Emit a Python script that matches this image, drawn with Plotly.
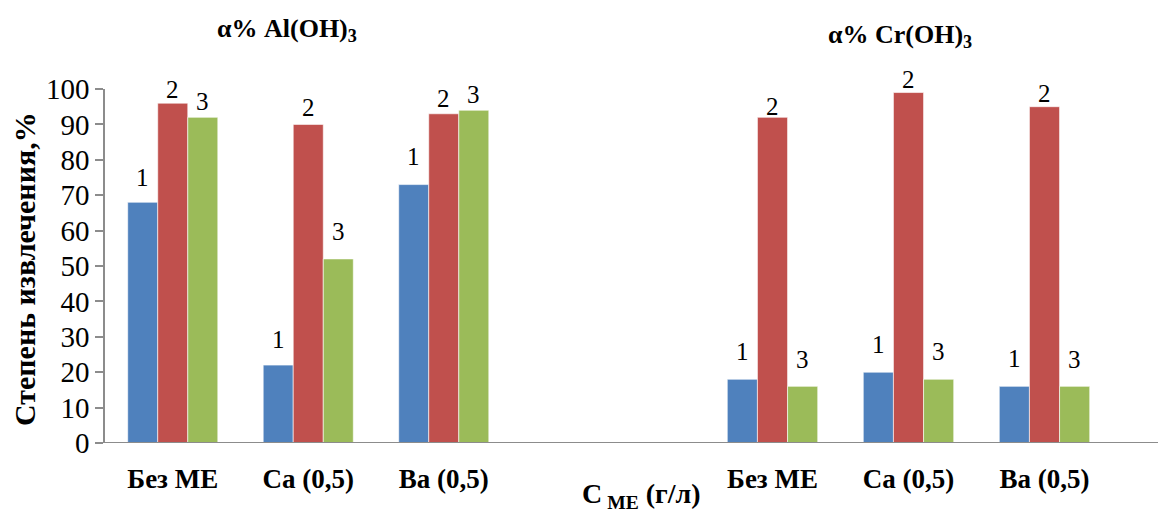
import plotly.graph_objects as go

# ---- data ----
categories = ["Без МЕ", "Ca (0,5)", "Ba (0,5)"]
series_names = ["1", "2", "3"]
al_values = {
    "1": [68, 22, 73],
    "2": [96, 90, 93],
    "3": [92, 52, 94],
}
cr_values = {
    "1": [18, 20, 16],
    "2": [92, 99, 95],
    "3": [16, 18, 16],
}
title_al = "α% Al(OH)<sub>3</sub>"
title_cr = "α% Cr(OH)<sub>3</sub>"
y_title = "Степень извлечения,%"
x_title = "C<sub> МЕ</sub> (г/л)"

# ---- style ----
colors = {"1": "#4F81BD", "2": "#C0504D", "3": "#9BBB59"}
FONT = "Liberation Serif"
AXIS_GRAY = "#8C8C8C"
BAR_W_PX = 30
# vertical pixel offsets of the series labels above their bars (style only)
label_shift_al = {"1": [25, 26, 28], "2": [14, 17, 15], "3": [16, 27, 16]}
label_shift_cr = {"1": [28, 28, 28], "2": [11, 13, 13], "3": [27, 28, 27]}

fig = go.Figure()

for s in series_names:
    fig.add_trace(go.Bar(
        x=categories, y=al_values[s], name=s, xaxis="x", yaxis="y",
        marker=dict(color=colors[s], line=dict(color="rgba(255,255,255,0.6)", width=1)),
        showlegend=False, hoverinfo="skip"))
for s in series_names:
    fig.add_trace(go.Bar(
        x=categories, y=cr_values[s], name=s, xaxis="x2", yaxis="y2",
        marker=dict(color=colors[s], line=dict(color="rgba(255,255,255,0.6)", width=1)),
        showlegend=False, hoverinfo="skip"))

annotations = []
for vals, shifts, xr, yr in [(al_values, label_shift_al, "x", "y"),
                             (cr_values, label_shift_cr, "x2", "y2")]:
    for si, s in enumerate(series_names):
        for ci, c in enumerate(categories):
            annotations.append(dict(
                x=c, y=vals[s][ci], xref=xr, yref=yr, text=s, showarrow=False,
                xshift=(si - 1) * BAR_W_PX, yshift=shifts[s][ci],
                xanchor="center", yanchor="middle",
                font=dict(family=FONT, size=25, color="black")))

W, H = 1158, 513
L, R, T, B = 105, 0, 89, 70
pw, ph = W - L - R, H - T - B

def px_x(px):
    return (px - L) / pw

def px_y(py):
    return (H - B - py) / ph

annotations += [
    dict(text="<b>" + title_al + "</b>", x=px_x(287), y=px_y(30), xref="paper", yref="paper",
         showarrow=False, xanchor="center", yanchor="middle",
         font=dict(family=FONT, size=26, color="black")),
    dict(text="<b>" + title_cr + "</b>", x=px_x(900), y=px_y(36), xref="paper", yref="paper",
         showarrow=False, xanchor="center", yanchor="middle",
         font=dict(family=FONT, size=26, color="black")),
    dict(text="<b>" + y_title + "</b>", x=px_x(24), y=px_y(269), xref="paper", yref="paper",
         showarrow=False, xanchor="center", yanchor="middle", textangle=-90,
         font=dict(family=FONT, size=30, color="black")),
    dict(text="<b>" + x_title + "</b>", x=px_x(580), y=px_y(496), xref="paper", yref="paper",
         showarrow=False, xanchor="left", yanchor="middle",
         font=dict(family=FONT, size=28, color="black")),
]

xaxis_common = dict(
    type="category", showline=False, showgrid=False, zeroline=False,
    ticks="outside", ticklen=12, tickcolor="rgba(0,0,0,0)",
    tickfont=dict(family=FONT, size=27, color="black"),
    tickprefix="<b>", ticksuffix="</b>", fixedrange=True)

fig.update_layout(
    width=W, height=H,
    margin=dict(l=L, r=R, t=T, b=B),
    paper_bgcolor="white", plot_bgcolor="white",
    font=dict(family=FONT, color="black"),
    barmode="group", bargap=0.335, bargroupgap=0,
    showlegend=False,
    xaxis=dict(domain=[0, px_x(511.5)], anchor="y", **xaxis_common),
    xaxis2=dict(domain=[px_x(704.5), px_x(1112.5)], anchor="y2", **xaxis_common),
    yaxis=dict(range=[0, 100], dtick=10, anchor="x", showline=True, linecolor=AXIS_GRAY,
               linewidth=1.5, ticks="outside", ticklen=8, tickcolor=AXIS_GRAY, tickwidth=1.5,
               showgrid=False, zeroline=False,
               tickfont=dict(family=FONT, size=29, color="black"), fixedrange=True),
    yaxis2=dict(range=[0, 100], anchor="x2", visible=False, showgrid=False,
                zeroline=False, fixedrange=True),
    annotations=annotations,
    shapes=[dict(type="line", xref="paper", yref="y", x0=0, x1=1, y0=0, y1=0,
                 line=dict(color=AXIS_GRAY, width=2), layer="above")],
)

fig.write_html("out.html")
